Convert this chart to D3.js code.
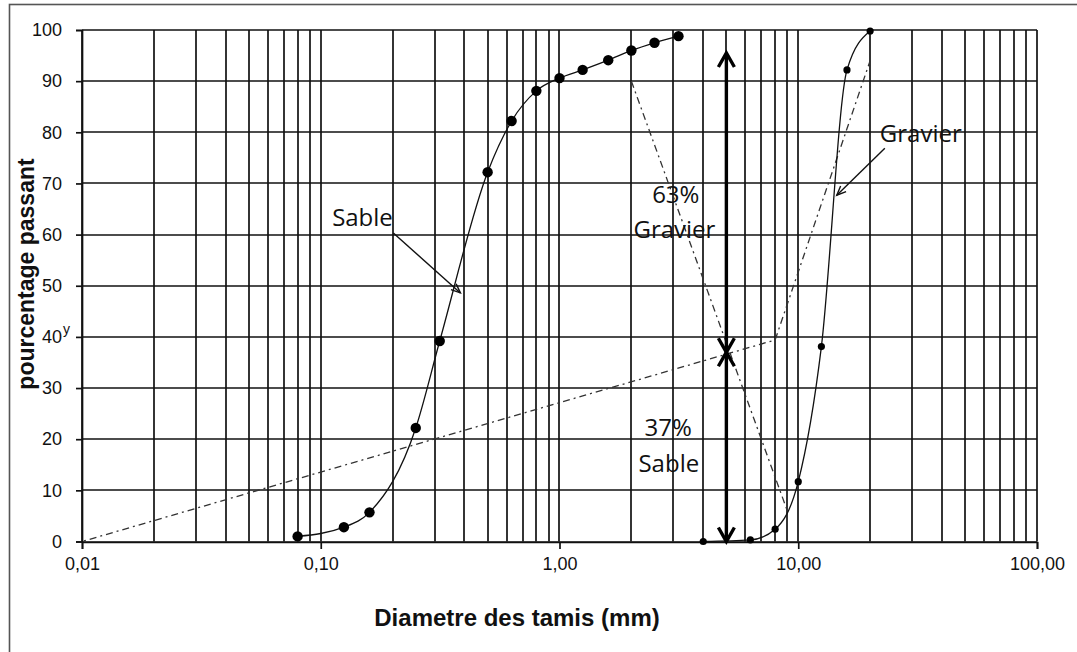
<!DOCTYPE html>
<html>
<head>
<meta charset="utf-8">
<script src="https://cdn.jsdelivr.net/npm/d3@7"></script>
<style>
  html, body { margin: 0; padding: 0; background: #fff; }
  svg { display: block; }
</style>
</head>
<body>
<svg id="chart" width="1077" height="652"></svg>
<script>
// Courbes granulométriques : sable et gravier
const sableDiam = [0.08, 0.125, 0.16, 0.25, 0.315, 0.5, 0.63, 0.8, 1.0, 1.25, 1.6, 2.0, 2.5, 3.15];
const sablePass = [1.0, 2.8, 5.7, 22.2, 39.2, 72.2, 82.2, 88.1, 90.6, 92.2, 94.1, 96.0, 97.5, 98.8];

const gravierDiam = [4, 6.3, 8, 10, 12.5, 16, 20];
const gravierPass = [0, 0.3, 2.4, 11.7, 38.1, 92.2, 99.8];

// Droites de construction (mélange sable / gravier)
const constrDiamA = [0.01, 8, 20];
const constrPassA = [0, 39.4, 94];
const constrDiamB = [2, 9];
const constrPassB = [90, 6];

// Proportions du mélange
const partSable = 37;
const partGravier = 63;
const flecheDiam = 5;
const flecheHaut = 95.5;

const xTickValues = [0.01, 0.1, 1, 10, 100];
const xTickLabels = ["0,01", "0,10", "1,00", "10,00", "100,00"];
const yTickValues = [0, 10, 20, 30, 40, 50, 60, 70, 80, 90, 100];
const yTickLabels = ["0", "10", "20", "30", "40", "50", "60", "70", "80", "90", "100"];

(function () {
const svg = d3.select("#chart");
const plotLeft = 82, plotRight = 1037, plotTop = 30, plotBottom = 541.5;

const x = d3.scaleLog().domain([0.01, 100]).range([plotLeft, plotRight]);
const y = d3.scaleLinear().domain([0, 100]).range([plotBottom, plotTop]);

const gridColor = "#111";
const gridWidth = 1.7;

// cadre extérieur
svg.append("rect")
  .attr("x", 9.5).attr("y", 4.5)
  .attr("width", 1100).attr("height", 700)
  .attr("fill", "none").attr("stroke", "#555").attr("stroke-width", 1.6);

// grille logarithmique verticale
const minorVals = [];
for (let p = -2; p <= 1; p++) {
  for (let m = 1; m <= 9; m++) minorVals.push(m * Math.pow(10, p));
}
minorVals.push(100);

const grid = svg.append("g").attr("stroke", gridColor).attr("stroke-width", gridWidth);
grid.selectAll("line.v").data(minorVals).join("line")
  .attr("class", "v")
  .attr("x1", d => Math.round(x(d))).attr("x2", d => Math.round(x(d)))
  .attr("y1", y(100)).attr("y2", y(0));
grid.selectAll("line.h").data(yTickValues).join("line")
  .attr("class", "h")
  .attr("x1", x(0.01)).attr("x2", x(100))
  .attr("y1", d => Math.round(y(d))).attr("y2", d => Math.round(y(d)));

// axes
const xAxis = d3.axisBottom(x)
  .tickValues(xTickValues)
  .tickFormat((d, i) => xTickLabels[i])
  .tickSize(7).tickPadding(8);
const gx = svg.append("g")
  .attr("transform", `translate(0,${Math.round(y(0))})`)
  .call(xAxis);
gx.select(".domain").attr("stroke", gridColor).attr("stroke-width", gridWidth);
gx.selectAll(".tick line").attr("stroke", gridColor).attr("stroke-width", gridWidth);
gx.selectAll(".tick text")
  .attr("font-family", "'Liberation Sans', Arial, sans-serif")
  .attr("font-size", 18).attr("fill", "#111");

const yAxis = d3.axisLeft(y)
  .tickValues(yTickValues)
  .tickFormat((d, i) => yTickLabels[i])
  .tickSize(6).tickPadding(14);
const gy = svg.append("g")
  .attr("transform", `translate(${x(0.01)},0)`)
  .call(yAxis);
gy.select(".domain").attr("stroke", gridColor).attr("stroke-width", gridWidth);
gy.selectAll(".tick line").attr("stroke", gridColor).attr("stroke-width", gridWidth);
gy.selectAll(".tick text")
  .attr("font-family", "'Liberation Sans', Arial, sans-serif")
  .attr("font-size", 18).attr("fill", "#111");

// petit caractère parasite à côté de la graduation 40
svg.append("text")
  .attr("x", x(0.01) - 19).attr("y", y(40) - 3)
  .attr("font-family", "'Liberation Sans', Arial, sans-serif")
  .attr("font-size", 14).attr("fill", "#111")
  .text("y");

// titres des axes
svg.append("text")
  .attr("x", 517).attr("y", 626)
  .attr("text-anchor", "middle")
  .attr("font-family", "'Liberation Sans', Arial, sans-serif")
  .attr("font-weight", "bold").attr("font-size", 24).attr("fill", "#111")
  .text("Diametre des tamis (mm)");

svg.append("text")
  .attr("transform", "translate(33.5,274) rotate(-90)")
  .attr("text-anchor", "middle")
  .attr("font-family", "'Liberation Sans', Arial, sans-serif")
  .attr("font-weight", "bold").attr("font-size", 23).attr("fill", "#111")
  .text("pourcentage passant");

// droites de construction en trait mixte
const straight = d3.line().x(d => x(d[0])).y(d => y(d[1]));
const dashStyle = sel => sel.attr("fill", "none").attr("stroke", "#333")
  .attr("stroke-width", 1.3).attr("stroke-dasharray", "7,4,2,4");
svg.append("path")
  .attr("d", straight(d3.zip(constrDiamA, constrPassA)))
  .attr("stroke-dashoffset", -8)
  .call(dashStyle);
svg.append("path")
  .attr("d", straight(d3.zip(constrDiamB, constrPassB)))
  .call(dashStyle);

// courbes lissées
const smooth = d3.line().x(d => x(d[0])).y(d => y(d[1])).curve(d3.curveMonotoneX);
svg.append("path")
  .attr("d", smooth(d3.zip(sableDiam, sablePass)))
  .attr("fill", "none").attr("stroke", "#111").attr("stroke-width", 1.3);
svg.append("path")
  .attr("d", smooth(d3.zip(gravierDiam, gravierPass)))
  .attr("fill", "none").attr("stroke", "#111").attr("stroke-width", 1.3);

svg.append("g").selectAll("circle").data(d3.zip(sableDiam, sablePass)).join("circle")
  .attr("cx", d => x(d[0])).attr("cy", d => y(d[1])).attr("r", 5.2).attr("fill", "#000");
svg.append("g").selectAll("circle").data(d3.zip(gravierDiam, gravierPass)).join("circle")
  .attr("cx", d => x(d[0])).attr("cy", d => y(d[1])).attr("r", 3.6).attr("fill", "#000");

// flèches de répartition sable / gravier
const ax = x(flecheDiam);
const ySplit = y(partSable);
const yTop = y(flecheHaut);
const yBot = y(0);
const arrows = svg.append("g").attr("stroke", "#000").attr("fill", "none")
  .attr("stroke-width", 3.4).attr("stroke-linejoin", "miter");
arrows.append("line").attr("x1", ax).attr("x2", ax).attr("y1", yTop + 2).attr("y2", yBot - 1);
const head = (tipY, dir) => `M${ax - 8},${tipY + dir * 14}L${ax},${tipY}L${ax + 8},${tipY + dir * 14}`;
arrows.append("path").attr("d", head(yTop, 1));
arrows.append("path").attr("d", head(ySplit, -1));
arrows.append("path").attr("d", head(ySplit, 1));
arrows.append("path").attr("d", head(yBot, -1));

// étiquettes
const labelFont = "'Open Sans', 'Noto Sans', sans-serif";
const label = (dx, py, txt, anchor) => svg.append("text")
  .attr("x", x(dx)).attr("y", y(py))
  .attr("text-anchor", anchor)
  .attr("font-family", labelFont).attr("font-size", 24).attr("fill", "#111")
  .text(txt);

label(3.07, 66.2, partGravier + "%", "middle");
label(3.03, 59.3, "Gravier", "middle");
label(2.85, 20.6, partSable + "%", "middle");
label(2.87, 13.6, "Sable", "middle");
label(0.1116, 61.7, "Sable", "start");
label(21.97, 78.1, "Gravier", "start");

// flèches des légendes
const pointer = (x0, y0, x1, y1) => {
  const px0 = x(x0), py0 = y(y0), px1 = x(x1), py1 = y(y1);
  const ang = Math.atan2(py1 - py0, px1 - px0);
  const len = 10, spread = 0.4;
  const g = svg.append("g").attr("stroke", "#111").attr("stroke-width", 1.4).attr("fill", "none");
  g.append("line").attr("x1", px0).attr("y1", py0).attr("x2", px1).attr("y2", py1);
  g.append("path").attr("d",
    `M${px1 - len * Math.cos(ang - spread)},${py1 - len * Math.sin(ang - spread)}` +
    `L${px1},${py1}` +
    `L${px1 - len * Math.cos(ang + spread)},${py1 - len * Math.sin(ang + spread)}`);
};
pointer(0.2014, 60.3, 0.3846, 48.6);
pointer(23.05, 76.9, 14.5, 67.7);
})();
</script>
</body>
</html>
